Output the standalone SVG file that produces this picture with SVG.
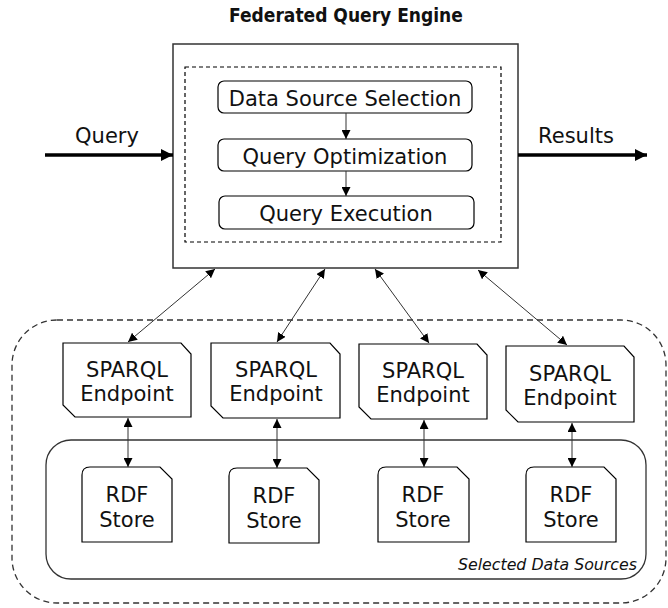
<svg xmlns="http://www.w3.org/2000/svg" width="668" height="608" viewBox="0 0 668 608">
<defs>
<style>
.t{font-family:"DejaVu Sans","Liberation Sans",sans-serif;font-size:21px;fill:#111;text-anchor:middle}
.title{font-family:"DejaVu Sans Condensed","DejaVu Sans",sans-serif;font-size:19px;font-weight:bold;fill:#111;text-anchor:middle}
.lbl{font-family:"DejaVu Sans","Liberation Sans",sans-serif;font-size:15.8px;font-style:italic;fill:#111;text-anchor:end}
.box{fill:#fff;stroke:#000;stroke-width:1.2}
.con{stroke:#333;stroke-width:1;fill:none;marker-start:url(#ah);marker-end:url(#ah)}
.one{stroke:#333;stroke-width:1;fill:none;marker-end:url(#ah)}
.big{stroke:#000;stroke-width:3.5;fill:none;marker-end:url(#bh)}
</style>
<marker id="ah" viewBox="0 0 10 10" refX="10" refY="5" markerWidth="9" markerHeight="9" markerUnits="userSpaceOnUse" orient="auto-start-reverse">
<path d="M0,0 L10,5 L0,10 Z" fill="#000"/>
</marker>
<marker id="bh" viewBox="0 0 10 10" refX="10" refY="5" markerWidth="14" markerHeight="12" markerUnits="userSpaceOnUse" orient="auto">
<path d="M0,0 L10,5 L0,10 Z" fill="#000"/>
</marker>
</defs>

<rect id="sources-outer" x="12" y="320" width="654" height="283" rx="45" ry="45" fill="none" stroke="#333" stroke-width="1.3" stroke-dasharray="6,4"/>
<g id="selected">
<rect x="46" y="440" width="600" height="139" rx="25" ry="25" fill="none" stroke="#333" stroke-width="1.3"/>
<text class="lbl" x="637" y="570">Selected Data Sources</text>
</g>

<text class="title" x="346" y="22">Federated Query Engine</text>

<g id="engine">
<rect x="173" y="44" width="345" height="224" fill="#fff" stroke="#333" stroke-width="1.5"/>
<rect x="185" y="67" width="316" height="175" fill="none" stroke="#000" stroke-width="1.2" stroke-dasharray="4,3"/>
</g>
<g id="dss"><rect class="box" x="218" y="81" width="254" height="32" rx="6"/><text class="t" x="345" y="106">Data Source Selection</text></g>
<g id="qo"><rect class="box" x="218" y="139" width="254" height="32" rx="6"/><text class="t" x="345" y="164">Query Optimization</text></g>
<g id="qe"><rect class="box" x="219" y="196" width="255" height="33" rx="6"/><text class="t" x="346" y="221">Query Execution</text></g>

<g id="ep1"><path class="box" d="M63,343 H181 L191,354 V417 H75 L63,405 Z"/><text class="t" x="127" y="377">SPARQL</text><text class="t" x="127" y="401">Endpoint</text></g>
<g id="ep2"><path class="box" d="M211,343 H330 L340,354 V418 H223 L211,406 Z"/><text class="t" x="276" y="377">SPARQL</text><text class="t" x="276" y="401">Endpoint</text></g>
<g id="ep3"><path class="box" d="M359,344 H477 L487,355 V419 H371 L359,407 Z"/><text class="t" x="423" y="378">SPARQL</text><text class="t" x="423" y="402">Endpoint</text></g>
<g id="ep4"><path class="box" d="M506,346 H624 L634,357 V422 H518 L506,410 Z"/><text class="t" x="570" y="381">SPARQL</text><text class="t" x="570" y="405">Endpoint</text></g>

<g id="rdf1"><path class="box" d="M82,542 V475 Q82,467 90,467 H160 L172,479 V542 Z"/><text class="t" x="127" y="502">RDF</text><text class="t" x="127" y="527">Store</text></g>
<g id="rdf2"><path class="box" d="M229,543 V476 Q229,468 237,468 H307 L319,480 V543 Z"/><text class="t" x="274" y="503">RDF</text><text class="t" x="274" y="528">Store</text></g>
<g id="rdf3"><path class="box" d="M378,542 V475 Q378,467 386,467 H457 L469,479 V542 Z"/><text class="t" x="423" y="502">RDF</text><text class="t" x="423" y="527">Store</text></g>
<g id="rdf4"><path class="box" d="M526,542 V475 Q526,467 534,467 H604 L616,479 V542 Z"/><text class="t" x="571" y="502">RDF</text><text class="t" x="571" y="527">Store</text></g>

<g id="connectors">
<line class="big" x1="45" y1="155" x2="173" y2="155"/>
<text class="t" x="107" y="143">Query</text>
<line class="big" x1="518" y1="155" x2="647" y2="155"/>
<text class="t" x="576" y="143">Results</text>
<line class="one" x1="346" y1="113" x2="346" y2="139"/>
<line class="one" x1="346" y1="171" x2="346" y2="196"/>
<line class="con" x1="215" y1="269" x2="128" y2="342"/>
<line class="con" x1="325" y1="269" x2="277" y2="342"/>
<line class="con" x1="375" y1="269" x2="429" y2="343"/>
<line class="con" x1="478" y1="270" x2="567" y2="345"/>
<line class="con" x1="128" y1="418" x2="128" y2="467"/>
<line class="con" x1="277" y1="419" x2="277" y2="468"/>
<line class="con" x1="424" y1="420" x2="424" y2="467"/>
<line class="con" x1="572" y1="423" x2="572" y2="467"/>
</g>
</svg>
